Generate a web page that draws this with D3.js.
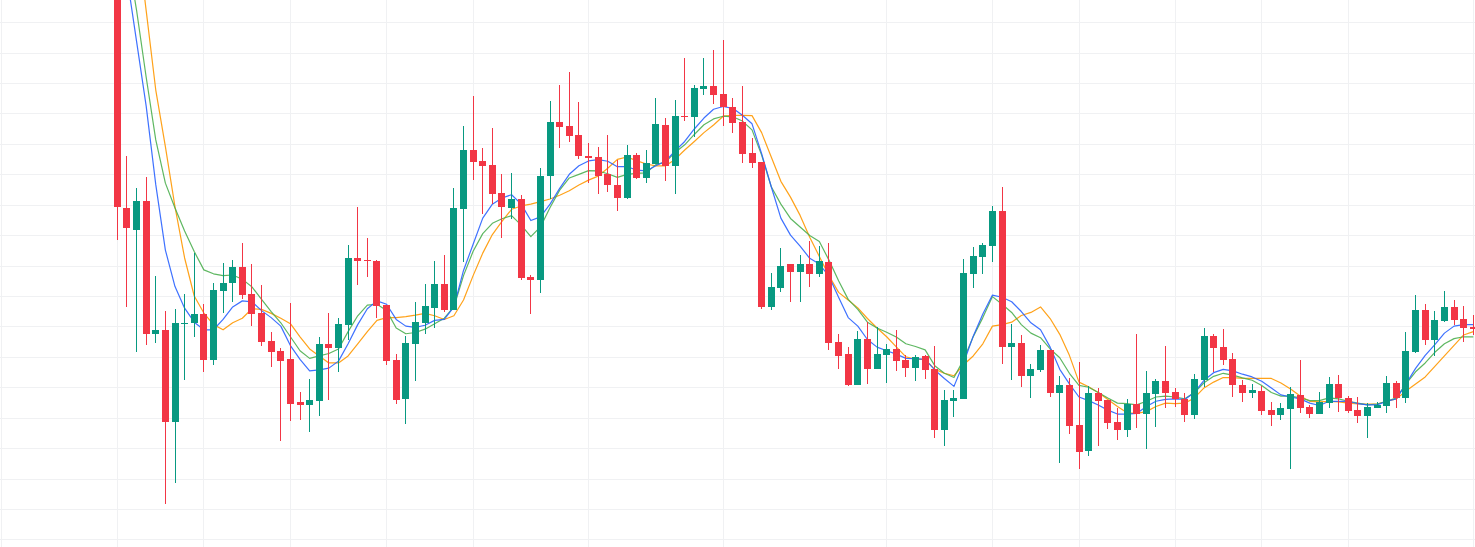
<!DOCTYPE html>
<html>
<head>
<meta charset="utf-8">
<script src="https://cdn.jsdelivr.net/npm/d3@7/dist/d3.min.js"></script>
<style>
  html, body { margin: 0; padding: 0; background: #ffffff; overflow: hidden; }
  svg { display: block; }
</style>
</head>
<body>
<svg id="chart" width="1475" height="547"></svg>
<script>
// ---- data ----
const openV = [300,208.8,201.8,211.1,167.4,168.8,138.6,170.7,171.0,174.1,
159.0,181.8,184.4,189.6,180.6,174.4,165.2,161.9,159.4,145.2,
144.3,145.6,164.2,162.9,170.5,192.4,191.9,191.5,177.1,159.0,
146.2,164.2,171.1,176.0,183.9,175.3,208.6,228.0,224.3,223.0,
213.9,208.9,211.8,186.1,185.1,219.3,237.2,235.9,232.9,225.9,
225.7,220.1,216.5,212.3,226.4,218.9,223.5,236.2,222.8,239.3,
239.0,248.2,249.0,246.4,242.1,237.2,226.9,224.1,176.5,182.7,
190.5,187.9,190.5,187.3,191.2,164.9,160.8,150.8,165.8,156.1,
160.5,162.6,158.9,156.4,160.3,155.9,135.8,145.6,146.2,187.3,
192.8,196.4,207.9,163.3,164.6,153.8,155.7,162.3,148.1,150.6,
137.6,129.1,148.0,145.7,138.5,136.0,144.5,141.2,147.9,152.0,
148.4,146.2,140.8,152.5,166.8,163.2,159.3,150.7,148.1,148.8,
142.5,140.9,143.0,147.5,143.6,141.3,144.9,151.0,146.4,142.5,
140.7,143.2,143.9,151.4,146.5,161.7,175.3,165.6,171.8,176.4,
172.5,169.8];
const highV = [305,226.0,215.4,219.0,186.5,175.1,175.7,180.6,194.1,177.4,
184.2,190.8,191.8,197.3,190.5,183.6,168.1,162.9,177.6,148.4,
152.7,166.5,174.4,172.7,196.8,209.3,199.1,191.8,177.1,160.9,
166.8,177.9,183.9,191.5,193.5,215.5,235.9,245.8,228.7,235.2,
220.1,220.4,213.1,186.8,222.2,244.0,249.3,253.7,243.8,230.3,
229.1,233.0,224.7,229.6,226.9,228.0,245.1,238.5,244.4,258.3,
249.3,258.3,260.9,264.1,245.1,249.0,231.9,224.1,187.5,195.7,
190.5,193.5,198.0,196.4,197.4,167.5,163.2,168.6,171.5,169.9,
164.1,168.8,160.6,160.5,160.5,163.5,149.1,149.1,192.2,196.1,
197.4,209.5,215.8,170.7,167.2,157.7,163.9,162.3,153.6,152.9,
158.2,150.3,149.6,145.9,143.3,146.1,167.5,155.4,152.7,163.5,
149.9,148.0,154.3,169.5,167.5,169.1,161.2,152.5,151.2,150.3,
145.2,144.8,150.0,158.9,144.2,148.4,153.4,154.0,147.1,146.8,
144.8,145.2,153.6,152.1,168.1,180.3,177.4,175.1,181.6,178.7,
176.7,173.7];
const lowV = [198.5,176.4,161.7,164.0,164.7,111.8,118.7,152.5,166.6,155.1,
157.4,174.5,178.0,179.0,170.2,163.6,156.8,132.4,139.0,139.3,
135.4,140.7,145.9,155.1,165.5,183.7,186.3,172.7,157.4,144.6,
138.0,152.2,167.5,169.5,174.8,175.3,191.3,218.2,206.9,210.4,
199.1,205.4,185.3,174.1,181.1,211.9,228.8,230.7,225.1,217.3,
213.4,214.1,208.0,211.9,218.3,217.2,223.4,217.9,213.6,237.6,
232.3,246.2,243.2,236.0,233.7,223.8,222.1,175.8,175.4,181.4,
178.1,178.1,183.0,186.2,162.4,156.1,150.4,150.8,151.1,156.1,
151.5,155.5,153.4,152.2,152.8,133.2,130.8,140.2,146.2,182.6,
187.3,191.3,157.8,152.5,150.2,146.6,155.0,146.9,125.2,134.7,
123.2,127.5,130.7,136.4,132.8,133.8,136.7,129.8,137.0,143.3,
143.6,138.6,139.7,150.2,155.0,157.3,146.9,145.1,146.5,140.8,
137.4,139.3,123.2,141.6,140.0,141.3,143.3,141.9,141.6,138.3,
133.3,143.1,141.6,143.1,144.8,161.2,164.0,160.3,171.5,170.5,
164.9,167.2];
const closeV = [209.1,202.2,211.1,167.4,168.8,138.6,171.0,171.2,174.1,159.0,
182.0,184.3,189.6,180.4,174.1,165.0,161.7,158.7,144.6,144.3,
145.7,164.2,162.9,170.7,192.4,191.6,191.5,176.8,158.7,145.9,
164.5,171.4,176.7,183.9,175.3,208.8,228.0,224.2,222.8,213.5,
209.1,211.8,186.0,185.1,219.3,237.2,235.7,232.7,226.1,225.4,
219.5,216.6,212.3,226.4,218.8,223.7,236.6,222.8,239.1,238.9,
248.4,249.0,246.2,242.0,236.9,226.8,223.8,176.5,182.9,189.8,
187.9,190.5,187.3,191.5,164.6,160.3,150.6,165.8,156.1,160.9,
162.6,158.7,156.4,159.8,155.7,135.8,145.7,146.4,187.5,193.1,
196.8,207.9,163.3,164.6,153.8,156.1,162.3,148.1,150.6,137.4,
128.8,148.0,145.6,138.3,136.0,144.5,141.2,148.0,152.0,148.0,
146.1,140.8,152.6,166.8,162.8,159.0,150.6,148.1,149.1,142.3,
140.9,143.1,147.8,143.2,141.3,145.2,151.0,146.5,142.3,140.7,
143.4,144.2,151.4,146.5,161.9,175.3,165.6,172.1,176.4,172.2,
169.5,169.1];

const maBlue = [310,285,263.8,242.5,216.6,195.1,183.1,176.0,171.4,168.9,
168.9,172.3,176.4,178.4,178.1,175.2,172.9,170.1,163.7,159.2,
155.4,155.7,156.3,158.6,164.3,170.6,175.8,178.4,177.3,172.3,
170.1,169.7,170.4,172.0,172.3,176.4,188.4,197.0,205.6,210.2,
212.2,213.3,210.2,204.8,206.0,210.2,215.4,220.0,222.8,224.4,
224.8,224.3,222.5,222.5,221.4,221.1,222.8,224.3,227.7,230.8,
234.9,238.5,241.4,242.3,241.7,239.4,236.6,226.8,215.9,205.6,
200.0,196.4,192.4,190.5,186.5,179.6,172.9,170.1,165.7,163.2,
162.0,160.9,159.5,159.4,159.2,155.7,152.9,150.3,158.0,166.8,
174.1,180.3,179.6,178.1,174.9,171.2,168.9,163.2,155.9,151.1,
146.8,145.6,144.2,142.5,141.2,141.2,141.4,143.7,145.4,146.0,
146.2,146.0,148.3,152.3,154.8,155.9,155.4,154.3,153.4,152.0,
149.8,147.5,146.8,146.2,144.8,144.0,145.4,145.4,145.4,144.6,
144.2,144.2,145.4,146.2,151.1,156.2,160.5,164.0,167.8,170.1,
170.6,170.6];
const maGreen = [316,293,274.0,252.0,231.3,217.1,208.9,201.4,194.6,188.6,
187.3,186.7,186.9,185.5,183.0,178.9,174.9,171.2,166.6,162.0,
159.5,160.3,161.1,162.6,168.3,173.5,177.0,177.3,175.2,169.5,
167.6,168.0,169.1,170.9,172.7,176.4,186.7,194.7,200.5,203.9,
205.4,206.4,203.3,199.5,202.7,209.1,214.8,218.8,220.0,221.2,
221.1,220.2,219.0,220.0,220.3,220.5,223.2,224.0,227.2,229.7,
233.1,236.3,238.2,239.1,238.9,237.5,234.6,226.3,215.9,210.2,
205.5,202.7,199.9,197.9,191.8,185.0,178.9,175.6,171.4,169.5,
168.1,166.5,164.3,163.4,162.3,157.1,154.6,153.2,159.1,166.6,
172.9,179.8,177.3,174.6,170.6,167.8,166.3,162.6,159.7,154.6,
150.6,150.0,148.3,146.5,144.8,144.6,144.2,145.4,146.8,147.1,
146.8,146.2,148.3,151.5,153.6,154.6,154.0,153.1,152.3,150.6,
148.3,147.1,147.1,146.5,145.6,145.6,146.5,146.2,145.4,144.8,
144.2,144.5,145.4,146.5,151.1,155.1,158.0,161.5,164.3,166.0,
166.6,166.6];
const maOrange = [330,315,300,273.9,247.7,229.1,209.3,192.5,180.0,174.4,
170.6,168.9,171.2,172.7,175.8,175.6,174.3,172.7,170.9,166.6,
162.6,160.3,158.0,158.0,160.3,164.3,168.3,172.0,172.9,172.9,
173.2,173.7,174.3,173.5,172.3,173.5,178.7,186.7,194.1,200.2,
204.5,208.5,209.6,210.2,211.0,211.9,213.1,214.6,216.5,218.1,
219.4,222.0,224.9,225.7,224.5,223.4,222.8,222.8,224.9,228.0,
230.8,233.7,236.2,239.1,239.4,239.4,239.3,233.7,225.7,217.7,
212.5,206.5,199.3,193.0,186.7,181.2,178.7,176.1,172.6,169.5,
166.6,163.3,160.0,159.2,159.2,155.9,154.6,153.8,157.4,160.3,
164.3,170.1,170.6,171.4,173.6,174.6,176.4,172.6,167.4,160.5,
151.7,150.2,148.3,146.0,143.7,141.6,141.4,142.0,143.7,144.8,
144.6,144.8,146.5,149.8,151.7,153.2,153.2,152.9,152.9,152.9,
152.9,151.4,149.4,147.1,145.4,145.2,145.4,145.2,144.8,144.5,
144.5,144.5,145.4,146.2,148.8,151.1,153.4,156.9,160.3,163.8,
167.2,168.3];

// grid tick positions
const priceTicks = [100,110,120,130,140,150,160,170,180,190,200,210,220,230,240,250,260,270];
const timeTicks = [-12,0,9,18,28,37,49,63,80,91,100,110,119,128,141];

// ---- drawing ----
const W = 1475, H = 547;
const svg = d3.select('#chart');
const n = closeV.length;
const bars = d3.range(n).map(i => ({i, o: openV[i], h: highV[i], l: lowV[i], c: closeV[i]}));

const x = d3.scaleLinear().domain([0, n - 1]).range([117.3, 1473.3]);
const y = d3.scaleLinear().domain([100, 270]).range([539.4, 22.2]);

const UP = '#089981', DOWN = '#F23645';

svg.append('rect').attr('width', W).attr('height', H).attr('fill', '#ffffff');

const grid = svg.append('g').attr('shape-rendering', 'crispEdges');
grid.selectAll('line.h').data(priceTicks).join('line')
  .attr('x1', 0).attr('x2', W)
  .attr('y1', d => Math.round(y(d)) + 0.5).attr('y2', d => Math.round(y(d)) + 0.5)
  .attr('stroke', '#f0f1f3').attr('stroke-width', 1);
grid.selectAll('line.v').data(timeTicks).join('line')
  .attr('y1', 0).attr('y2', H)
  .attr('x1', d => Math.floor(x(d)) + 0.5).attr('x2', d => Math.floor(x(d)) + 0.5)
  .attr('stroke', '#f0f1f3').attr('stroke-width', 1);

const lines = [
  {vals: maOrange, color: '#FF9800'},
  {vals: maGreen, color: '#4CAF50'},
  {vals: maBlue, color: '#2962FF'}
];
const lineGen = d3.line().x((d, i) => x(i)).y(d => y(d));
svg.append('g').selectAll('path').data(lines).join('path')
  .attr('d', d => lineGen(d.vals))
  .attr('fill', 'none')
  .attr('stroke', d => d.color)
  .attr('stroke-width', 1.2)
  .attr('stroke-opacity', 0.9)
  .attr('stroke-linejoin', 'round');

const cg = svg.append('g').attr('shape-rendering', 'crispEdges');
const candle = cg.selectAll('g').data(bars).join('g');
candle.append('rect')
  .attr('x', d => Math.floor(x(d.i)))
  .attr('width', 1)
  .attr('y', d => y(d.h))
  .attr('height', d => Math.max(1, y(d.l) - y(d.h)))
  .attr('fill', d => d.c >= d.o ? UP : DOWN);
candle.append('rect')
  .attr('x', d => Math.floor(x(d.i)) - 3)
  .attr('width', 7)
  .attr('y', d => y(Math.max(d.o, d.c)))
  .attr('height', d => Math.max(1, Math.abs(y(d.o) - y(d.c))))
  .attr('fill', d => d.c >= d.o ? UP : DOWN);
</script>
</body>
</html>
